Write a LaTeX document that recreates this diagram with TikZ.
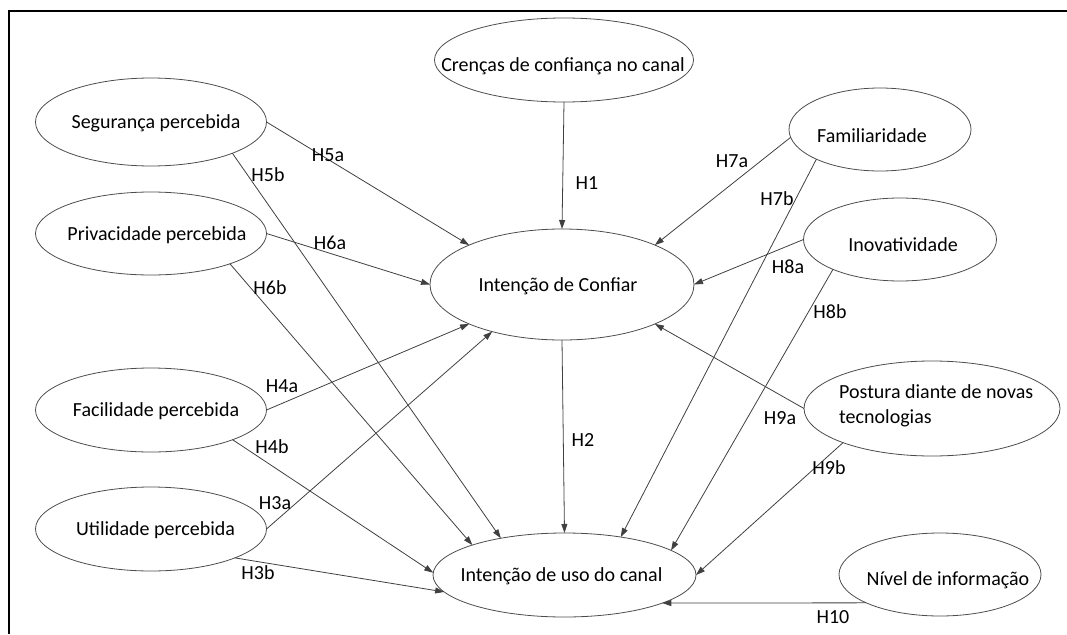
\documentclass[tikz,border=0pt]{standalone}
\usepackage{fontspec}
\setmainfont{Carlito}
\usetikzlibrary{arrows.meta,shapes.geometric}
\begin{document}
\begin{tikzpicture}[x=1pt,y=-1pt,
  ell/.style={ellipse, draw=black!70, line width=0.8pt, inner sep=0pt, outer sep=0pt},
  txt/.style={inner sep=0pt, font=\fontsize{20}{25}\selectfont, text=black},
  hyp/.style={inner sep=0pt, font=\fontsize{20}{25}\selectfont, text=black},
  link/.style={draw=black!75, line width=0.8pt, -{Triangle[length=9pt,width=6pt]}}]
\useasboundingbox (0,0) rectangle (1067,634);
\draw[line width=2pt] (9,634) -- (9,11) -- (1067,11);

% ellipses
\node[ell, minimum width=259pt, minimum height=84pt] (cr) at (564,60) {};
\node[ell, minimum width=231pt, minimum height=88pt] (seg) at (151,122) {};
\node[ell, minimum width=231pt, minimum height=83pt] (pri) at (151,233.5) {};
\node[ell, minimum width=231pt, minimum height=84pt] (fac) at (151,410) {};
\node[ell, minimum width=231pt, minimum height=84pt] (uti) at (151,529) {};
\node[ell, minimum width=264pt, minimum height=111pt] (conf) at (562,284.5) {};
\node[ell, minimum width=263pt, minimum height=84pt] (uso) at (564.5,575) {};
\node[ell, minimum width=182pt, minimum height=83pt] (fam) at (880,129.5) {};
\node[ell, minimum width=193pt, minimum height=83pt] (ino) at (900,239.5) {};
\node[ell, minimum width=256pt, minimum height=95pt] (pos) at (932,408.5) {};
\node[ell, minimum width=202pt, minimum height=83pt] (niv) at (940,574.5) {};

% texts
\node[txt] (cr-t) at (563,66) {Crenças de confiança no canal};
\node[txt] (seg-t) at (156,123) {Segurança percebida};
\node[txt] (pri-t) at (157,235) {Privacidade percebida};
\node[txt] (fac-t) at (156,411) {Facilidade percebida};
\node[txt] (uti-t) at (155.5,530) {Utilidade percebida};
\node[txt] (conf-t) at (558,286) {Intenção de Confiar};
\node[txt] (uso-t) at (561.5,576) {Intenção de uso do canal};
\node[txt] (fam-t) at (872,136) {Familiaridade};
\node[txt] (ino-t) at (903,245) {Inovatividade};
\node[txt, anchor=west, align=left] (pos-t) at (839,405.5) {Postura diante de novas\\tecnologias};
\node[txt] (niv-t) at (948,580) {Nível de informação};

% connectors
\draw[link] (seg.0) -- (conf.157);
\draw[link] (seg.-21) -- (uso.150);
\draw[link] (pri.0) -- (conf.180);
\draw[link] (pri.-21) -- (uso.162);
\draw[link] (fac.0) -- (conf.203);
\draw[link] (fac.-20) -- (uso.179);
\draw[link] (uti.0) -- (conf.214);
\draw[link] (uti.-19) -- (uso.188);
\draw[link] (cr.south) -- (conf.north);
\draw[link] (conf.south) -- (uso.north);
\draw[link] (fam.185) -- (conf.23);
\draw[link] (fam.205) -- (uso.34);
\draw[link] (ino.180) -- (conf.0);
\draw[link] (ino.204) -- (uso.13);
\draw[link] (pos.180) -- (conf.-23);
\draw[link] (pos.201) -- (uso.0);
\draw[link] (niv.201) -- (uso.-16);

% hypothesis labels
\node[hyp] (h5a) at (328,155) {H5a};
\node[hyp] (h5b) at (268,175) {H5b};
\node[hyp] (h1) at (587,183) {H1};
\node[hyp] (h7a) at (732,161) {H7a};
\node[hyp] (h7b) at (777,199) {H7b};
\node[hyp] (h6a) at (330,243) {H6a};
\node[hyp] (h6b) at (270,288) {H6b};
\node[hyp] (h4a) at (282,386) {H4a};
\node[hyp] (h4b) at (272,447) {H4b};
\node[hyp] (h3a) at (275,503) {H3a};
\node[hyp] (h3b) at (258,573) {H3b};
\node[hyp] (h2) at (583,440) {H2};
\node[hyp] (h8a) at (788,267) {H8a};
\node[hyp] (h8b) at (830,312) {H8b};
\node[hyp] (h9a) at (780,418) {H9a};
\node[hyp] (h9b) at (829,468) {H9b};
\node[hyp] (h10) at (833,617) {H10};
\end{tikzpicture}
\end{document}
